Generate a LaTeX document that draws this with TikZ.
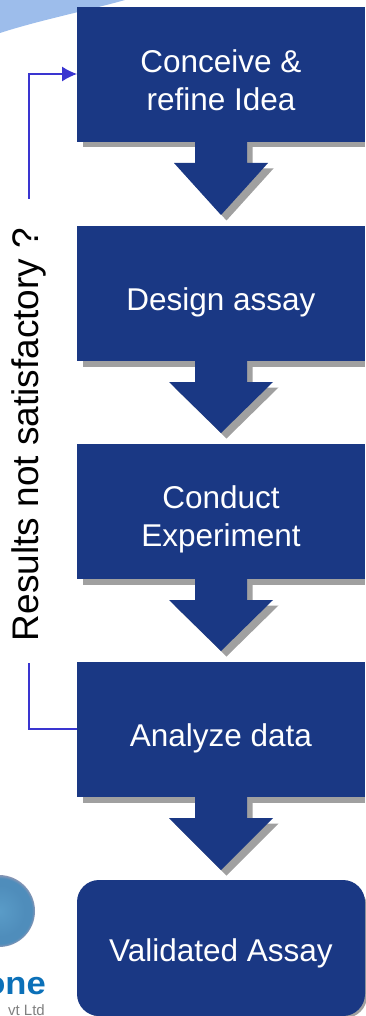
\documentclass[tikz,border=0pt]{standalone}
\usepackage{fontspec}
\usetikzlibrary{arrows.meta}
\setmainfont{Liberation Sans}
\definecolor{boxblue}{HTML}{1A3884}
\definecolor{shadowgrey}{HTML}{A0A0A0}
\definecolor{linkblue}{HTML}{3A35D0}
\definecolor{skyblue}{HTML}{9DBDEB}
\definecolor{logoblue}{HTML}{0B70B8}
\definecolor{ballmid}{HTML}{4F8DBB}
\definecolor{ballin}{HTML}{5A9CC8}
\definecolor{ballrim}{HTML}{8A96B4}
\tikzset{
 px/.style={x=1pt,y=-1pt},
 boxtext/.style={text=white,font=\fontsize{31.5}{37.5}\selectfont,align=center},
 stepbox/.style={fill=boxblue,minimum width=288pt,minimum height=135pt,inner sep=0pt,anchor=north west,rectangle},
 link/.style={draw=linkblue,line width=1.2pt},
}
\pgfdeclareradialshading{logoball}{\pgfpoint{0pt}{0pt}}{%
 color(0pt)=(ballin);
 color(18pt)=(ballmid);
 color(23pt)=(ballmid);
 color(25pt)=(ballrim);
 color(50pt)=(ballrim)}
\newcommand{\downarrowshape}[6]{% top y, head y, tip y, half head width, fill, offset
 \fill[#5,shift={(#6pt,-#6pt)}] (195,#1) -- (247,#1) -- (247,#2) -- (221+#4,#2) -- (221,#3) -- (221-#4,#2) -- (195,#2) -- cycle;}
\begin{document}
\begin{tikzpicture}[px]
\useasboundingbox (0,0) rectangle (365,1016);
% background swoosh
\fill[skyblue] (0,0) -- (125,0) .. controls (90,10) and (40,20) .. (0,33) -- cycle;
% logo
\begin{scope}
\clip (0,860) rectangle (60,960);
\shade[shading=logoball] (-1,911) circle (36);
\end{scope}
\begin{scope}
\clip (0,960) rectangle (60,1016);
\node[text=logoblue,font=\bfseries\fontsize{32}{32}\selectfont,anchor=base east,inner sep=0pt,xscale=1.08] (logoname) at (46,994) {one};
\node[text=gray,font=\fontsize{15}{15}\selectfont,anchor=base east,inner sep=0pt] (logosub) at (45,1015) {vt Ltd};
\end{scope}
% shadows
\foreach \t in {7,226,444,662} \fill[shadowgrey] (82.5,\t+5.5) rectangle (365,\t+140.5);
\downarrowshape{140}{163}{215}{47}{shadowgrey}{5.5}
\downarrowshape{359}{382}{433}{52}{shadowgrey}{5.5}
\downarrowshape{577}{600}{651}{52}{shadowgrey}{5.5}
\downarrowshape{795}{818}{870}{52}{shadowgrey}{5.5}
\fill[shadowgrey,rounded corners=22pt] (82,885) rectangle (367,1018);
% arrows
\downarrowshape{140}{163}{215}{47}{boxblue}{0}
\downarrowshape{359}{382}{433}{52}{boxblue}{0}
\downarrowshape{577}{600}{651}{52}{boxblue}{0}
\downarrowshape{795}{818}{870}{52}{boxblue}{0}
% boxes
\node[stepbox] (idea) at (77,7) {};
\node[boxtext] at (221,80) {Conceive \&\\refine Idea};
\node[stepbox] (assay) at (77,226) {};
\node[boxtext] at (221,302) {Design assay};
\node[stepbox] (expt) at (77,444) {};
\node[boxtext] at (221,519.5) {Conduct\\Experiment};
\node[stepbox] (data) at (77,662) {};
\node[boxtext] at (221,738) {Analyze data};
\fill[boxblue,rounded corners=22pt] (77,880) rectangle (365,1016);
\node[boxtext] (valid) at (221,953) {Validated Assay};
% feedback label
\node[rotate=90,font=\fontsize{37}{37}\selectfont,text=black] (label) at (29,434.5) {Results not satisfactory ?};
% feedback
\coordinate (fbtop) at (29,199);
\coordinate (fbbot) at (29,663);
\draw[link] (fbbot) |- (data.west |- 0,729);
\draw[link,-{Latex[length=15pt,width=15pt]}] (fbtop) |- (idea.west |- 0,74);
\end{tikzpicture}
\end{document}
